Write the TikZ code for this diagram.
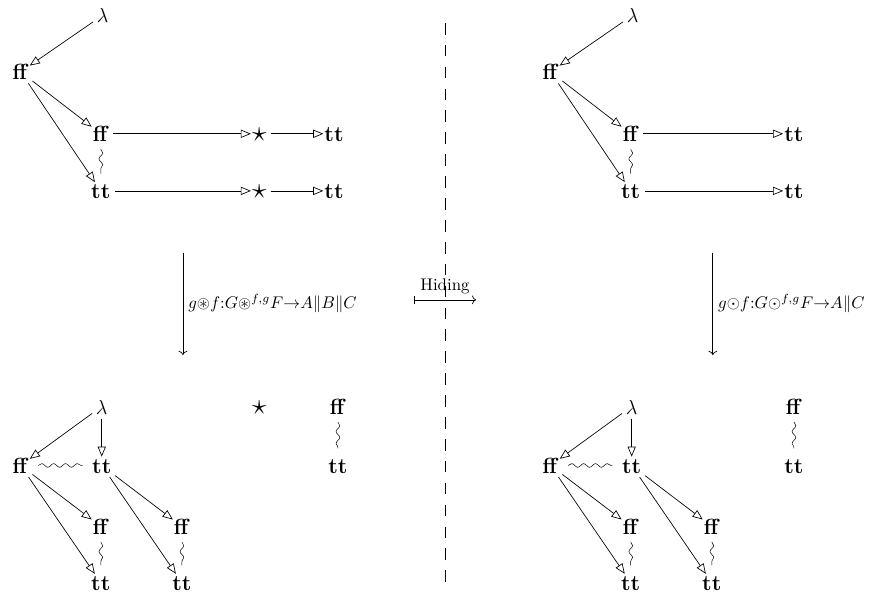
\documentclass[tikz,border=0pt]{standalone}
\usepackage{amsmath,amssymb}
\usetikzlibrary{arrows.meta, decorations.pathmorphing, calc, positioning}
\newcommand{\valff}{\textbf{ff}}
\newcommand{\valtt}{\textbf{tt}}
\tikzset{
  val/.style     = {font=\fontsize{13}{15}\selectfont, inner sep=0.5pt, text height=9pt, text depth=0pt},
  stuck/.style   = {val, font=\fontsize{17}{19}\selectfont},
  trans/.style   = {-{Triangle[open, length=2.1mm, width=1.7mm]}, line width=0.4pt, shorten <=2pt},
  confl/.style   = {decorate, decoration={snake, amplitude=1.1pt, segment length=7pt}, line width=0.3pt},
  maparrow/.style= {->, line width=0.4pt},
  divider/.style = {line width=0.4pt, dash pattern=on 6.9pt off 6.08pt},
  maplbl/.style  = {right, inner sep=3pt},
}
\begin{document}
\begin{tikzpicture}
  \useasboundingbox (0,0) rectangle (18.354,12.417);

  % ---- left, before
  \node[val]   (lamA) at (2.14,12.1)  {$\lambda$};
  \node[val]   (ffA)  at (0.43,10.92) {\valff};
  \node[val]   (ffB)  at (2.10,9.63)  {\valff};
  \node[val]   (ttB)  at (2.10,8.44)  {\valtt};
  \node[stuck] (stB)  at (5.40,9.63)  {$\star$};
  \node[stuck] (stC)  at (5.40,8.44)  {$\star$};
  \node[val]   (ttC)  at (6.96,9.63)  {\valtt};
  \node[val]   (ttD)  at (6.96,8.44)  {\valtt};

  \draw[trans] (lamA) -- (ffA);
  \draw[trans] (ffA) -- (ffB);
  \draw[trans] (ffA) -- (ttB);
  \draw[trans] (ffB) -- (stB);
  \draw[trans] (ttB) -- (stC);
  \draw[trans] (stB) -- (ttC);
  \draw[trans] (stC) -- (ttD);
  \draw[confl] ($(ffB.south)!4pt!(ttB.north)$) -- ($(ttB.north)!5pt!(ffB.south)$);

  % ---- left, after
  \node[val]   (lamE) at (2.12,3.95) {$\lambda$};
  \node[val]   (ffE)  at (0.43,2.72) {\valff};
  \node[val]   (ttE)  at (2.12,2.72) {\valtt};
  \node[val]   (ffF)  at (2.10,1.45) {\valff};
  \node[val]   (ttF)  at (2.10,0.28) {\valtt};
  \node[val]   (ffG)  at (3.79,1.45) {\valff};
  \node[val]   (ttG)  at (3.79,0.28) {\valtt};
  \node[stuck] (stE)  at (5.40,3.95) {$\star$};
  \node[val]   (ffH)  at (7.04,3.95) {\valff};
  \node[val]   (ttH)  at (7.04,2.72) {\valtt};

  \draw[trans] (lamE) -- (ffE);
  \draw[trans] (lamE) -- (ttE);
  \draw[trans] (ffE) -- (ffF);
  \draw[trans] (ffE) -- (ttF);
  \draw[trans] (ttE) -- (ffG);
  \draw[trans] (ttE) -- (ttG);
  \draw[confl] ($(ffE.east)!5pt!(ttE.west)$) -- ($(ttE.west)!5pt!(ffE.east)$);
  \draw[confl] ($(ffF.south)!4pt!(ttF.north)$) -- ($(ttF.north)!5pt!(ffF.south)$);
  \draw[confl] ($(ffG.south)!4pt!(ttG.north)$) -- ($(ttG.north)!5pt!(ffG.south)$);
  \draw[confl] ($(ffH.south)!4pt!(ttH.north)$) -- ($(ttH.north)!5pt!(ffH.south)$);

  \coordinate (mapLs) at (3.81,7.15);
  \coordinate (mapLt) at (3.81,5.02);
  \draw[maparrow] (mapLs) -- (mapLt)
    node[midway, maplbl] {$g{\circledast}f{:}G{\circledast}^{f,g}F{\to}A\|B\|C$};

  % ---- hiding
  \coordinate (divTop) at (9.27,11.94);
  \coordinate (divBot) at (9.27,0.29);
  \draw[divider] (divTop) -- (divBot);
  \coordinate (hideS) at (8.62,6.17);
  \coordinate (hideT) at (9.92,6.17);
  \draw[|->, line width=0.4pt] (hideS) -- (hideT) node[midway, above] {Hiding};

  % ---- right, before
  \node[val] (lamR)  at (13.18,12.1)  {$\lambda$};
  \node[val] (ffRa)  at (11.47,10.92) {\valff};
  \node[val] (ffRb)  at (13.14,9.63)  {\valff};
  \node[val] (ttRb)  at (13.14,8.44)  {\valtt};
  \node[val] (ttRc)  at (16.54,9.63)  {\valtt};
  \node[val] (ttRd)  at (16.54,8.44)  {\valtt};

  \draw[trans] (lamR) -- (ffRa);
  \draw[trans] (ffRa) -- (ffRb);
  \draw[trans] (ffRa) -- (ttRb);
  \draw[trans] (ffRb) -- (ttRc);
  \draw[trans] (ttRb) -- (ttRd);
  \draw[confl] ($(ffRb.south)!4pt!(ttRb.north)$) -- ($(ttRb.north)!5pt!(ffRb.south)$);

  % ---- right, after
  \node[val] (lamS) at (13.16,3.95) {$\lambda$};
  \node[val] (ffS)  at (11.47,2.72) {\valff};
  \node[val] (ttS)  at (13.16,2.72) {\valtt};
  \node[val] (ffT)  at (13.14,1.45) {\valff};
  \node[val] (ttT)  at (13.14,0.28) {\valtt};
  \node[val] (ffU)  at (14.83,1.45) {\valff};
  \node[val] (ttU)  at (14.83,0.28) {\valtt};
  \node[val] (ffV)  at (16.54,3.95) {\valff};
  \node[val] (ttV)  at (16.54,2.72) {\valtt};

  \draw[trans] (lamS) -- (ffS);
  \draw[trans] (lamS) -- (ttS);
  \draw[trans] (ffS) -- (ffT);
  \draw[trans] (ffS) -- (ttT);
  \draw[trans] (ttS) -- (ffU);
  \draw[trans] (ttS) -- (ttU);
  \draw[confl] ($(ffS.east)!5pt!(ttS.west)$) -- ($(ttS.west)!5pt!(ffS.east)$);
  \draw[confl] ($(ffT.south)!4pt!(ttT.north)$) -- ($(ttT.north)!5pt!(ffT.south)$);
  \draw[confl] ($(ffU.south)!4pt!(ttU.north)$) -- ($(ttU.north)!5pt!(ffU.south)$);
  \draw[confl] ($(ffV.south)!4pt!(ttV.north)$) -- ($(ttV.north)!5pt!(ffV.south)$);

  \coordinate (mapRs) at (14.85,7.15);
  \coordinate (mapRt) at (14.85,5.02);
  \draw[maparrow] (mapRs) -- (mapRt)
    node[midway, maplbl] {$g{\odot}f{:}G{\odot}^{f,g}F{\to}A\|C$};
\end{tikzpicture}
\end{document}
